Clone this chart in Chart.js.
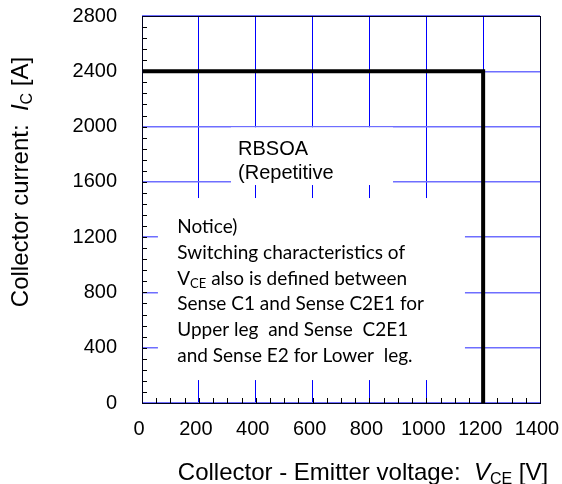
<!DOCTYPE html>
<html>
<head>
<meta charset="utf-8">
<script src="https://cdn.jsdelivr.net/npm/chart.js@4.4.1/dist/chart.umd.min.js"></script>
<style>
  html, body { margin: 0; padding: 0; background: #fff; }
  #wrap { width: 562px; height: 484px; }
</style>
</head>
<body>
<div id="wrap"><canvas id="soa" width="562" height="484"></canvas></div>
<script>
// ── Data ─────────────────────────────────────────────────────────────────────

const VCE = [0, 1200, 1200];          // V
const IC  = [2400, 2400, 0];          // A

const X_TICKS = [0, 200, 400, 600, 800, 1000, 1200, 1400];
const Y_TICKS = [0, 400, 800, 1200, 1600, 2000, 2400, 2800];
const X_MINOR = 50;
const Y_MINOR = 80;

const RBSOA_LINES = ['RBSOA', '(Repetitive'];
const NOTICE_LINES = [
  [{ t: 'Notice)' }],
  [{ t: 'Switching characteristics of' }],
  [{ t: 'V' }, { t: 'CE', sub: true }, { t: ' also is defined between' }],
  [{ t: 'Sense C1 and Sense C2E1 for' }],
  [{ t: 'Upper leg  and Sense  C2E1' }],
  [{ t: 'and Sense E2 for Lower  leg.' }],
];

const X_TITLE = [{ t: 'Collector - Emitter voltage:  ' }, { t: 'V', it: true }, { t: 'CE', sub: true }, { t: ' [V]' }];
const Y_TITLE = [{ t: 'Collector current:  ' }, { t: 'I', it: true }, { t: 'C', sub: true }, { t: ' [A]' }];

// ── Annotation layout (data units) ───────────────────────────────────────────

const RBSOA_BOX  = { x0: 313, x1: 883, y0: 1577, y1: 1994 };
const NOTICE_BOX = { x0: 56,  x1: 1136, y0: 166, y1: 1483 };
const RBSOA_AT   = { x: 338, y: 1794 };   // first baseline
const NOTICE_AT  = { x: 124, y: 1230 };

const ARIAL   = '"Liberation Sans", Arial, sans-serif';
const CALIBRI = 'Lato, "Open Sans", sans-serif';

Chart.defaults.font.family = ARIAL;

// ── Helpers ──────────────────────────────────────────────────────────────────

function partFont(p, size, fam) {
  const s = p.sub ? Math.round(size * 0.66) : size;
  return (p.it ? 'italic ' : '') + s + 'px ' + fam;
}

function richWidth(ctx, parts, size, fam) {
  let w = 0;
  parts.forEach(p => { ctx.font = partFont(p, size, fam); w += ctx.measureText(p.t).width; });
  return w;
}

function drawRich(ctx, parts, x, y, size, fam, subDrop) {
  ctx.textBaseline = 'alphabetic';
  ctx.textAlign = 'left';
  parts.forEach(p => {
    ctx.font = partFont(p, size, fam);
    ctx.fillText(p.t, x, p.sub ? y + subDrop : y);
    x += ctx.measureText(p.t).width;
  });
}

// ── Plugin: boxes, notes, minor ticks, frame, titles ─────────────────────────

const annot = {
  id: 'annot',
  beforeDatasetsDraw(chart) {
    const { ctx, scales: { x, y } } = chart;
    ctx.save();
    ctx.fillStyle = '#fff';
    [RBSOA_BOX, NOTICE_BOX].forEach(b => {
      const l = x.getPixelForValue(b.x0), r = x.getPixelForValue(b.x1);
      const t = y.getPixelForValue(b.y1), btm = y.getPixelForValue(b.y0);
      ctx.fillRect(l, t, r - l, btm - t);
    });

    ctx.fillStyle = '#000';
    ctx.textBaseline = 'alphabetic';
    ctx.font = '20px ' + ARIAL;
    RBSOA_LINES.forEach((s, i) => {
      ctx.fillText(s, x.getPixelForValue(RBSOA_AT.x), y.getPixelForValue(RBSOA_AT.y) + i * 23.5);
    });

    NOTICE_LINES.forEach((parts, i) => {
      drawRich(ctx, parts, x.getPixelForValue(NOTICE_AT.x), y.getPixelForValue(NOTICE_AT.y) + i * 25.8, 19, CALIBRI, 3);
    });
    ctx.restore();
  },
  afterDraw(chart) {
    const { ctx, chartArea: a, scales: { x, y } } = chart;
    ctx.save();

    // minor ticks, drawn inward
    ctx.strokeStyle = '#000';
    ctx.lineWidth = 1;
    ctx.beginPath();
    for (let v = 0; v <= 2800; v += Y_MINOR) {
      const py = Math.round(y.getPixelForValue(v)) + 0.5;
      ctx.moveTo(a.left, py); ctx.lineTo(a.left + 5, py);
    }
    for (let v = 0; v <= 1400; v += X_MINOR) {
      const px = Math.round(x.getPixelForValue(v)) + 0.5;
      ctx.moveTo(px, a.bottom); ctx.lineTo(px, a.bottom - 5);
    }
    ctx.stroke();

    // frame
    ctx.strokeStyle = '#00001e';
    ctx.strokeRect(Math.round(a.left) + 0.5, Math.round(a.top) + 0.5,
                   Math.round(a.right - a.left), Math.round(a.bottom - a.top));

    // axis titles
    ctx.fillStyle = '#000';
    const wx = richWidth(ctx, X_TITLE, 24, ARIAL);
    drawRich(ctx, X_TITLE, 363 - wx / 2, 480, 24, ARIAL, 4);

    const wy = richWidth(ctx, Y_TITLE, 24, ARIAL);
    ctx.translate(27.5, 182);
    ctx.rotate(-Math.PI / 2);
    drawRich(ctx, Y_TITLE, -wy / 2, 0, 24, ARIAL, 4);
    ctx.restore();
  },
};

// ── Chart ────────────────────────────────────────────────────────────────────

new Chart(document.getElementById('soa').getContext('2d'), {
  type: 'scatter',
  data: {
    datasets: [{
      data: VCE.map((v, i) => ({ x: v, y: IC[i] })),
      showLine: true,
      borderColor: '#000',
      borderWidth: 4,
      borderJoinStyle: 'miter',
      pointRadius: 0,
      fill: false,
      tension: 0,
    }],
  },
  options: {
    responsive: false,
    animation: false,
    layout: { padding: { top: 16, right: 22, left: 0, bottom: 0 } },
    plugins: { legend: { display: false }, tooltip: { enabled: false } },
    scales: {
      x: {
        type: 'linear', min: 0, max: 1400,
        afterBuildTicks: s => { s.ticks = X_TICKS.map(v => ({ value: v })); },
        afterFit: s => { s.height = 81; s.paddingLeft = 0; s.paddingRight = 0; },
        grid: { color: '#0000ff', lineWidth: 1, drawTicks: false },
        border: { display: false },
        ticks: {
          color: '#000', padding: 14, labelOffset: -3, maxRotation: 0, autoSkip: false,
          font: { family: ARIAL, size: 20 },
          callback: v => String(v),
        },
      },
      y: {
        type: 'linear', min: 0, max: 2800,
        afterBuildTicks: s => { s.ticks = Y_TICKS.map(v => ({ value: v })); },
        afterFit: s => { s.width = 142; s.paddingTop = 0; s.paddingBottom = 0; },
        grid: { color: '#6e6eff', lineWidth: 1.5, drawTicks: false },
        border: { display: false },
        ticks: {
          color: '#000', padding: 25, autoSkip: false,
          font: { family: ARIAL, size: 20 },
          callback: v => String(v),
        },
      },
    },
  },
  plugins: [annot],
});
</script>
</body>
</html>
